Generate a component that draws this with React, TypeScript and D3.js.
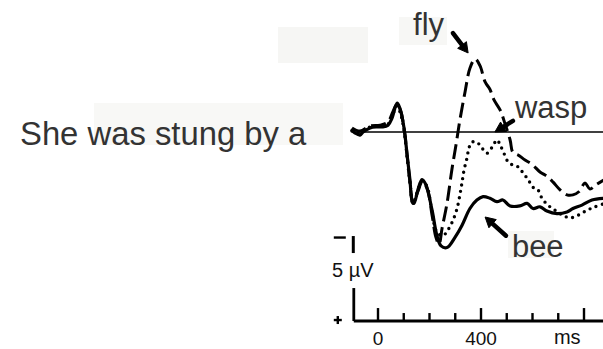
import React from "react";
import * as d3 from "d3";

const W = 603;
const H = 349;

// Grand-average waveforms for the three sentence endings.
// Time in ms after word onset, amplitude in µV (negative plotted upward).
const beeTimes = [-101, -89, -70, -58, -31, -4, 16, 39, 54, 74, 85, 97, 105, 113, 124, 132, 140, 155, 171, 186, 210, 229, 245, 268, 299, 326, 357, 384, 408, 435, 462, 485, 513, 551, 579, 602, 629, 656, 695, 734, 757, 792, 831, 880];
const beeValues = [-0.1, 0.06, 0.18, 0, -0.24, -0.3, -0.3, -0.4, -0.8, -1.7, -1.4, -0.6, 0.2, 1.35, 2.8, 4.0, 4.2, 3.4, 2.8, 3.1, 4.6, 6.1, 6.7, 6.8, 6.2, 5.5, 4.5, 4.0, 3.8, 3.9, 4.1, 4.0, 4.35, 4.35, 4.2, 4.5, 4.4, 4.65, 4.8, 4.7, 4.5, 4.3, 4.0, 3.9];

const waspTimes = [-101, -70, -31, 8, 39, 58, 74, 89, 101, 113, 124, 136, 155, 171, 190, 210, 229, 252, 272, 291, 307, 318, 326, 334, 346, 353, 365, 384, 404, 423, 443, 462, 474, 489, 505, 524, 544, 563, 583, 602, 621, 637, 660, 687, 718, 746, 777, 812, 843, 880];
const waspValues = [-0.06, 0.06, -0.3, -0.35, -0.47, -1.06, -1.53, -1.0, -0.12, 1.47, 2.95, 4.2, 3.4, 2.9, 3.2, 4.75, 5.9, 6.1, 5.75, 5.2, 4.5, 3.7, 3.0, 2.25, 1.5, 0.95, 0.6, 0.6, 0.95, 1.25, 0.9, 0.47, 0.75, 1.25, 1.75, 1.95, 2.05, 2.4, 2.8, 3.25, 3.4, 3.9, 4.3, 4.6, 4.9, 5.05, 4.9, 4.6, 4.4, 4.2];

const flyTimes = [-101, -70, -31, 8, 39, 58, 74, 89, 101, 113, 124, 136, 155, 171, 190, 210, 225, 237, 249, 268, 287, 303, 318, 338, 357, 377, 396, 416, 435, 450, 474, 493, 513, 524, 544, 571, 598, 629, 656, 680, 707, 734, 757, 781, 804, 823, 847, 880];
const flyValues = [-0.24, -0.06, -0.35, -0.4, -0.6, -1.2, -1.65, -1.2, -0.24, 1.35, 2.95, 4.2, 3.5, 2.95, 3.3, 4.9, 6.2, 6.6, 5.65, 4.2, 2.2, 0.75, -0.7, -2.35, -3.75, -4.3, -3.9, -2.95, -2.5, -1.9, -1.3, -0.5, 0.47, 1.2, 1.35, 1.65, 1.9, 2.35, 2.6, 2.95, 3.4, 3.7, 3.7, 3.5, 3.0, 3.35, 3.1, 2.8];

// Time axis
const tickTimes = [0, 100, 200, 300, 400, 500, 600, 700, 800];
const majorTicks = [0, 400, 800];
const tickLabels = ["0", "400"];
const tickLabelTimes = [0, 400];
const unitLabel = "ms";
const unitLabelTime = 735;

// Calibration bar
const calibrationUV = 5;
const calibrationLabel = "5 µV";

// Sentence and ending labels
const sentence = "She was stung by a";
const endingLabels = ["fly", "wasp", "bee"];
// label anchor [ms, µV], arrow tail [ms, µV], arrow tip [ms, µV]
const labelAnchors: [number, number][] = [[136, -5.7], [532, -0.82], [520, 7.35]];
const arrowTails: [number, number][] = [[291, -5.82], [524, -0.65], [497, 6.1]];
const arrowTips: [number, number][] = [[350, -4.65], [454, 0], [416, 5.0]];

const x = d3.scaleLinear().domain([0, 800]).range([378, 584]);
const y = d3.scaleLinear().domain([0, 5]).range([132, 217]);

const axisUV = 11.12;
const axisStartTime = -94;
const baselineStartTime = -101;

const zip = (ts: number[], vs: number[]) => ts.map((t, i) => [t, vs[i]] as [number, number]);

const line = d3
  .line<[number, number]>()
  .x((d) => x(d[0]))
  .y((d) => y(d[1]))
  .curve(d3.curveCatmullRom.alpha(0.5));

const FONT = "'Liberation Sans', Arial, Helvetica, sans-serif";

function Arrow({ tail, tip }: { tail: [number, number]; tip: [number, number] }) {
  const x0 = x(tail[0]);
  const y0 = y(tail[1]);
  const x1 = x(tip[0]);
  const y1 = y(tip[1]);
  const dx = x1 - x0;
  const dy = y1 - y0;
  const len = Math.hypot(dx, dy);
  const ux = dx / len;
  const uy = dy / len;
  const headLen = 10;
  const headHalf = 5.5;
  const bx = x1 - ux * headLen;
  const by = y1 - uy * headLen;
  const head = [
    [x1, y1],
    [bx - uy * headHalf, by + ux * headHalf],
    [bx + uy * headHalf, by - ux * headHalf],
  ];
  return (
    <g>
      <line x1={x0} y1={y0} x2={bx + ux * 2} y2={by + uy * 2} stroke="#000" strokeWidth={4.5} strokeLinecap="round" />
      <polygon points={head.map((p) => p.join(",")).join(" ")} fill="#000" stroke="#000" strokeWidth={1} strokeLinejoin="round" />
    </g>
  );
}

export default function App() {
  const axisY = y(axisUV);
  const calTop = axisY - (y(calibrationUV) - y(0));
  const axisX = x(axisStartTime);

  return (
    <svg
      width={W}
      height={H}
      viewBox={`0 0 ${W} ${H}`}
      style={{ position: "absolute", left: 0, top: 0, background: "#fff" }}
    >
      {/* faint label patches */}
      <rect x={278} y={27} width={90} height={36} fill="#f6f6f4" />
      <rect x={94} y={103} width={249} height={42} fill="#f8f8f6" />
      <rect x={399} y={17} width={48} height={28} fill="#f7f7f5" />
      <rect x={508} y={231} width={46} height={27} fill="#f7f7f5" />

      <text x={20} y={145} fontFamily={FONT} fontSize={32.8} fill="#333">
        {sentence}
      </text>

      {/* zero baseline */}
      <line x1={x(baselineStartTime)} x2={W} y1={y(0)} y2={y(0)} stroke="#000" strokeWidth={1.6} />

      {/* waveforms */}
      <path d={line(zip(flyTimes, flyValues)) || ""} fill="none" stroke="#000" strokeWidth={3} strokeDasharray="15 6" strokeLinejoin="round" />
      <path d={line(zip(waspTimes, waspValues)) || ""} fill="none" stroke="#000" strokeWidth={3.4} strokeDasharray="0 6.5" strokeLinecap="round" />
      <path d={line(zip(beeTimes, beeValues)) || ""} fill="none" stroke="#000" strokeWidth={3.2} strokeLinejoin="round" strokeLinecap="round" />

      {/* ending labels with arrows */}
      {endingLabels.map((lab, i) => (
        <g key={lab}>
          <text x={x(labelAnchors[i][0])} y={y(labelAnchors[i][1])} fontFamily={FONT} fontSize={31} fill="#333">
            {lab}
          </text>
          <Arrow tail={arrowTails[i]} tip={arrowTips[i]} />
        </g>
      ))}

      {/* time axis */}
      <line x1={axisX} x2={W} y1={axisY} y2={axisY} stroke="#000" strokeWidth={3} />
      {tickTimes.map((t) => (
        <line
          key={t}
          x1={x(t)}
          x2={x(t)}
          y1={axisY}
          y2={axisY - (majorTicks.includes(t) ? 13 : 8)}
          stroke="#000"
          strokeWidth={2.4}
        />
      ))}
      {tickLabels.map((lab, i) => (
        <text key={lab} x={x(tickLabelTimes[i])} y={345} textAnchor="middle" fontFamily={FONT} fontSize={19} fill="#111">
          {lab}
        </text>
      ))}
      <text x={x(unitLabelTime)} y={344} textAnchor="middle" fontFamily={FONT} fontSize={20} fill="#111">
        {unitLabel}
      </text>

      {/* calibration bar */}
      <line x1={axisX} x2={axisX} y1={axisY} y2={axisY - 33} stroke="#000" strokeWidth={2.8} />
      <line x1={axisX - 0.5} x2={axisX - 0.5} y1={calTop} y2={calTop + 17} stroke="#000" strokeWidth={3} />
      <line x1={axisX - 20} x2={axisX - 8} y1={calTop + 1.5} y2={calTop + 1.5} stroke="#000" strokeWidth={2.4} />
      <line x1={axisX - 20} x2={axisX - 12} y1={axisY - 1} y2={axisY - 1} stroke="#000" strokeWidth={2.4} />
      <line x1={axisX - 16} x2={axisX - 16} y1={axisY - 5} y2={axisY + 3} stroke="#000" strokeWidth={2.4} />
      <text x={332} y={277} fontFamily={FONT} fontSize={20} fill="#111">
        {calibrationLabel}
      </text>
    </svg>
  );
}
